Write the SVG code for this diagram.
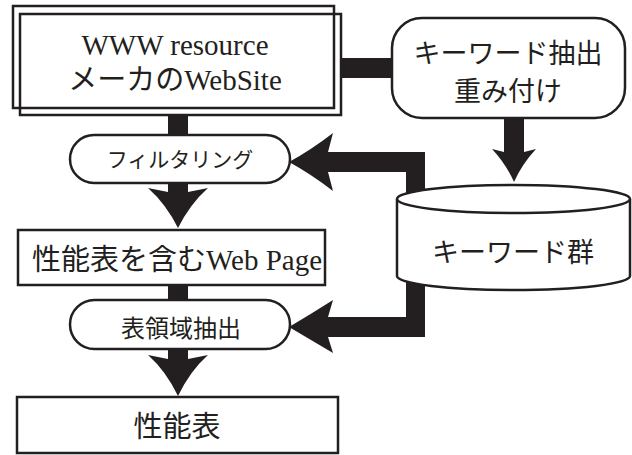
<svg xmlns="http://www.w3.org/2000/svg" width="632" height="455" viewBox="0 0 632 455">
<style>
.box{fill:#fff;stroke:#231f20;stroke-width:2.5}
.ol{fill:none;stroke:#231f20;stroke-width:2.5}
.con{fill:#231f20;stroke:none}
.jp{font-family:"Noto Sans CJK JP","Noto Sans",sans-serif;fill:#231f20;text-anchor:middle}
.mx{font-family:"Liberation Serif","Noto Sans CJK JP",serif;fill:#231f20;text-anchor:middle}
</style>
<rect width="632" height="455" fill="#fff"/>
<g id="connectors">
<path class="con" d="M341,58 H392 V78 H341 Z"/>
<path class="con" d="M168,114 H188 V136 H168 Z"/>
<path class="con" d="M168,284 H188 V301 H168 Z"/>
<path class="con" d="M168,182 H188 V192 L208,188 Q190,204 178,228 Q166,204 148,188 L168,192 Z"/>
<path class="con" d="M168,348 H188 V359 L208,355 Q190,371 178,396 Q166,371 148,355 L168,359 Z"/>
<path class="con" d="M504,117 H524 V152 L536,149 Q522,164 514,182 Q506,164 492,149 L504,152 Z"/>
<path class="con" d="M425,205 V152 H328 L333,133 Q311,150 289,162 Q311,174 333,191 L328,172 H406 V205 Z"/>
<path class="con" d="M406,275 V317 H328 L333,300 Q311,314 289,327 Q311,340 333,353 L328,337 H425 V275 Z"/>
</g>
<g id="www">
<rect class="ol" x="13" y="6" width="321" height="102"/>
<rect class="ol" x="20" y="14" width="321" height="101"/>
<text class="mx" x="175" y="55" font-size="29">WWW resource</text>
<text class="mx" x="175" y="90" font-size="29">メーカのWebSite</text>
</g>
<g id="keyword">
<rect class="box" x="392" y="18" width="233" height="100" rx="30"/>
<text class="jp" x="508" y="63" font-size="27">キーワード抽出</text>
<text class="jp" x="508" y="101" font-size="27">重み付け</text>
</g>
<g id="filter">
<rect class="box" x="70" y="135" width="220" height="48" rx="24"/>
<text class="jp" x="180" y="167" font-size="21">フィルタリング</text>
</g>
<g id="keywords-db">
<path class="box" d="M397,199 V276 A116.5,14 0 0 0 630,276 V199 A116.5,14 0 0 0 397,199 Z"/>
<path class="ol" d="M397,199 A116.5,14 0 0 0 630,199"/>
<text class="jp" x="513" y="262" font-size="27">キーワード群</text>
</g>
<g id="webpage">
<rect class="box" x="18" y="230" width="307" height="55"/>
<text class="mx" x="177" y="270" font-size="29">性能表を含むWeb Page</text>
</g>
<g id="extract">
<rect class="box" x="70" y="300" width="220" height="49" rx="24.5"/>
<text class="jp" x="181" y="337" font-size="24">表領域抽出</text>
</g>
<g id="table">
<rect class="box" x="17" y="397" width="321" height="56"/>
<text class="jp" x="177" y="437" font-size="29">性能表</text>
</g>
</svg>
